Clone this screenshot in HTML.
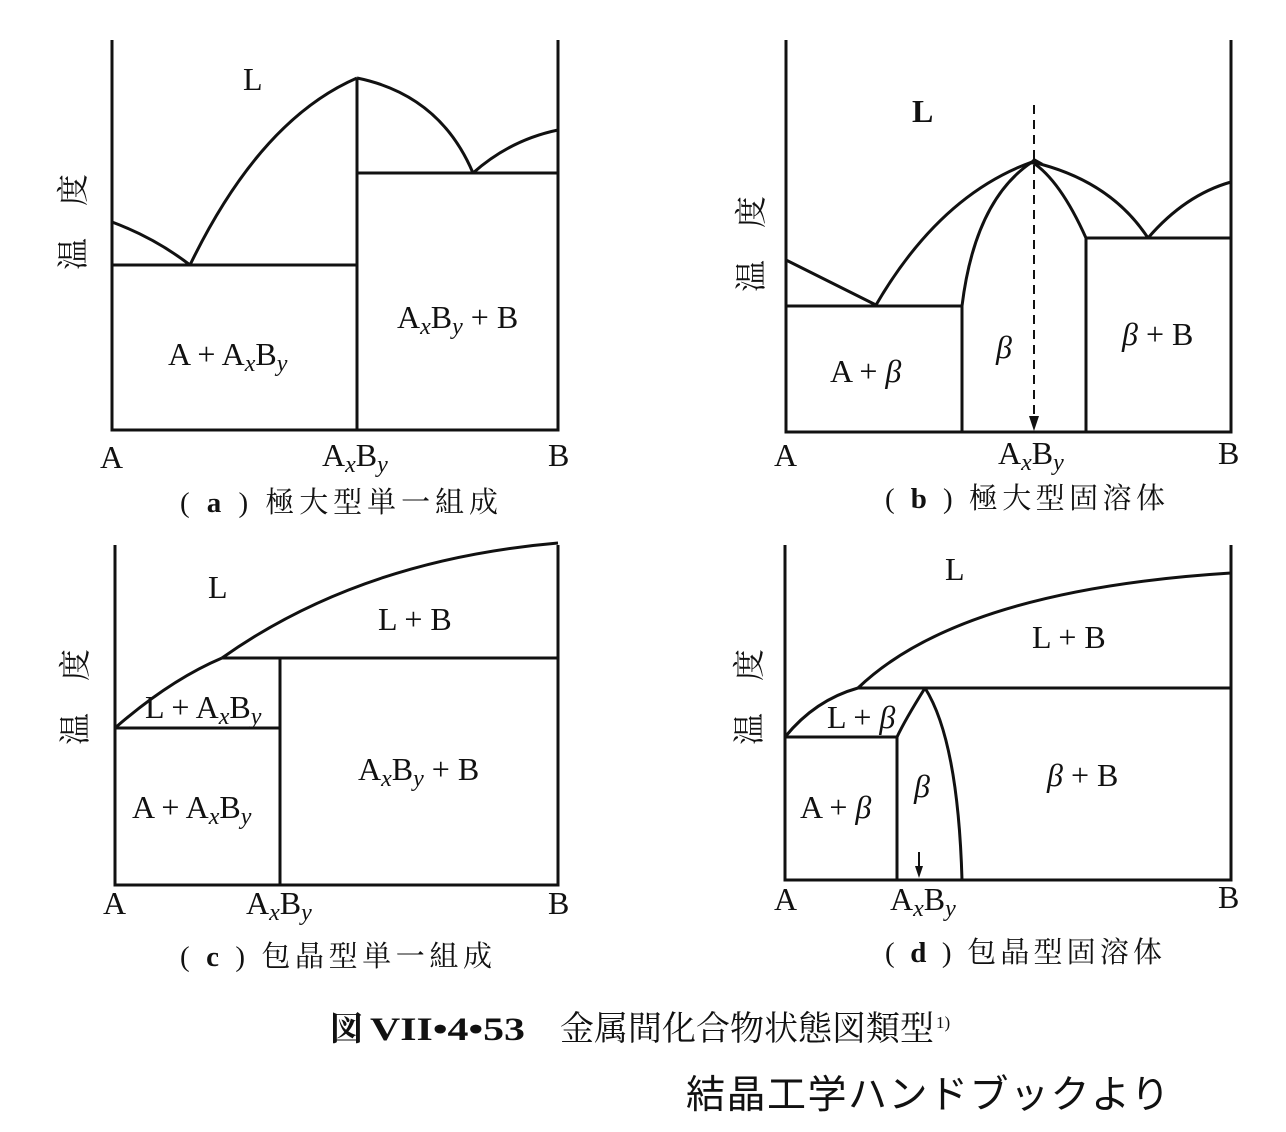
<!DOCTYPE html>
<html><head><meta charset="utf-8"><style>
html,body{margin:0;padding:0;background:#fff;}
svg{display:block;}
text{font-family:"Liberation Serif","Noto Serif CJK SC","Noto Sans CJK JP",serif;fill:#111;}
.lbl{font-size:32px;}
.cap{font-size:29px;}
.s{font-style:italic;font-size:24px;}
</style></head><body>
<svg width="1286" height="1132" viewBox="0 0 1286 1132" xmlns="http://www.w3.org/2000/svg">
<g fill="none" stroke="#111" stroke-width="3">
<path d="M112,40 V430 H558 V40"/>
<path d="M357,78 V430"/>
<path d="M112,265 H357 M357,173 H558"/>
<path d="M112,222 Q155,238 190,265"/>
<path d="M190,265 Q260,120 357,78"/>
<path d="M357,78 Q440,95 473,173"/>
<path d="M473,173 Q510,140 558,130"/>
<path d="M786,40 V432 H1231 V40"/>
<path d="M786,260 L876,305"/>
<path d="M876,305 Q940,195 1032,162"/>
<path d="M1032,162 Q1110,180 1148,238"/>
<path d="M1148,238 Q1185,195 1231,182"/>
<path d="M786,306 H962 V432 M1086,238 H1231 M1086,238 V432"/>
<path d="M962,306 Q975,200 1032,162"/>
<path d="M1032,162 Q1060,180 1086,238"/>
<path d="M115,545 V885 H558 V545"/>
<path d="M115,728 Q170,680 222,658"/>
<path d="M222,658 Q360,560 558,543"/>
<path d="M222,658 H558 M115,728 H280 M280,658 V885"/>
<path d="M785,545 V880 H1231 V545"/>
<path d="M785,737 Q815,700 858,688"/>
<path d="M858,688 Q960,590 1231,573"/>
<path d="M858,688 H1231 M785,737 H897 V880"/>
<path d="M897,737 Q905,720 925,688"/>
<path d="M925,688 Q958,740 962,880"/>
</g>
<path d="M1034,105 V418" stroke="#111" stroke-width="2" stroke-dasharray="9,6" fill="none"/>
<path d="M1029,416 L1039,416 L1034,431 Z" fill="#111"/>
<path d="M1027,165 L1034,158 L1043,163 Z" fill="#111"/>
<path d="M919,852 V868" stroke="#111" stroke-width="2" fill="none"/>
<path d="M915,866 L923,866 L919,878 Z" fill="#111"/>

<text class="lbl" x="243" y="90">L</text>
<text class="lbl" x="168" y="365">A + A<tspan class="s" dy="6">x</tspan><tspan dy="-6">B</tspan><tspan class="s" dy="6">y</tspan></text>
<text class="lbl" x="397" y="328">A<tspan class="s" dy="6">x</tspan><tspan dy="-6">B</tspan><tspan class="s" dy="6">y</tspan><tspan dy="-6"> + B</tspan></text>
<text class="lbl" x="100" y="468">A</text>
<text class="lbl" x="322" y="466">A<tspan class="s" dy="6">x</tspan><tspan dy="-6">B</tspan><tspan class="s" dy="6">y</tspan></text>
<text class="lbl" x="548" y="466">B</text>
<text class="cap" x="180" y="512" textLength="318" lengthAdjust="spacing">( <tspan font-weight="bold">a</tspan> ) 極大型単一組成</text>
<text class="lbl" transform="translate(84,270) rotate(-90)">温　度</text>

<text class="lbl" x="912" y="122" font-weight="bold">L</text>
<text class="lbl" x="830" y="382">A + <tspan font-style="italic">β</tspan></text>
<text class="lbl" x="996" y="358" font-style="italic">β</text>
<text class="lbl" x="1122" y="345"><tspan font-style="italic">β</tspan> + B</text>
<text class="lbl" x="774" y="466">A</text>
<text class="lbl" x="998" y="464">A<tspan class="s" dy="6">x</tspan><tspan dy="-6">B</tspan><tspan class="s" dy="6">y</tspan></text>
<text class="lbl" x="1218" y="464">B</text>
<text class="cap" x="885" y="508" textLength="280" lengthAdjust="spacing">( <tspan font-weight="bold">b</tspan> ) 極大型固溶体</text>
<text class="lbl" transform="translate(762,292) rotate(-90)">温　度</text>

<text class="lbl" x="208" y="598">L</text>
<text class="lbl" x="378" y="630">L + B</text>
<text class="lbl" x="145" y="718">L + A<tspan class="s" dy="6">x</tspan><tspan dy="-6">B</tspan><tspan class="s" dy="6">y</tspan></text>
<text class="lbl" x="132" y="818">A + A<tspan class="s" dy="6">x</tspan><tspan dy="-6">B</tspan><tspan class="s" dy="6">y</tspan></text>
<text class="lbl" x="358" y="780">A<tspan class="s" dy="6">x</tspan><tspan dy="-6">B</tspan><tspan class="s" dy="6">y</tspan><tspan dy="-6"> + B</tspan></text>
<text class="lbl" x="103" y="914">A</text>
<text class="lbl" x="246" y="914">A<tspan class="s" dy="6">x</tspan><tspan dy="-6">B</tspan><tspan class="s" dy="6">y</tspan></text>
<text class="lbl" x="548" y="914">B</text>
<text class="cap" x="180" y="966" textLength="312" lengthAdjust="spacing">( <tspan font-weight="bold">c</tspan> ) 包晶型単一組成</text>
<text class="lbl" transform="translate(86,745) rotate(-90)">温　度</text>

<text class="lbl" x="945" y="580">L</text>
<text class="lbl" x="1032" y="648">L + B</text>
<text class="lbl" x="827" y="728">L + <tspan font-style="italic">β</tspan></text>
<text class="lbl" x="914" y="797" font-style="italic">β</text>
<text class="lbl" x="800" y="818">A + <tspan font-style="italic">β</tspan></text>
<text class="lbl" x="1047" y="786"><tspan font-style="italic">β</tspan> + B</text>
<text class="lbl" x="774" y="910">A</text>
<text class="lbl" x="890" y="910">A<tspan class="s" dy="6">x</tspan><tspan dy="-6">B</tspan><tspan class="s" dy="6">y</tspan></text>
<text class="lbl" x="1218" y="908">B</text>
<text class="cap" x="885" y="962" textLength="277" lengthAdjust="spacing">( <tspan font-weight="bold">d</tspan> ) 包晶型固溶体</text>
<text class="lbl" transform="translate(760,745) rotate(-90)">温　度</text>

<text x="330" y="1040" font-size="33" font-weight="bold">図</text>
<text x="370" y="1040" font-size="33" font-weight="bold" textLength="155" lengthAdjust="spacingAndGlyphs">VII•4•53</text>
<text x="560" y="1040" font-size="34" textLength="374" lengthAdjust="spacingAndGlyphs">金属間化合物状態図類型</text>
<text x="936" y="1028" font-size="17">1)</text>
<text x="686" y="1108" font-size="39" letter-spacing="1.5" style='font-family:"Noto Sans CJK JP","Liberation Sans",sans-serif'>結晶工学ハンドブックより</text>
</svg>
</body></html>
